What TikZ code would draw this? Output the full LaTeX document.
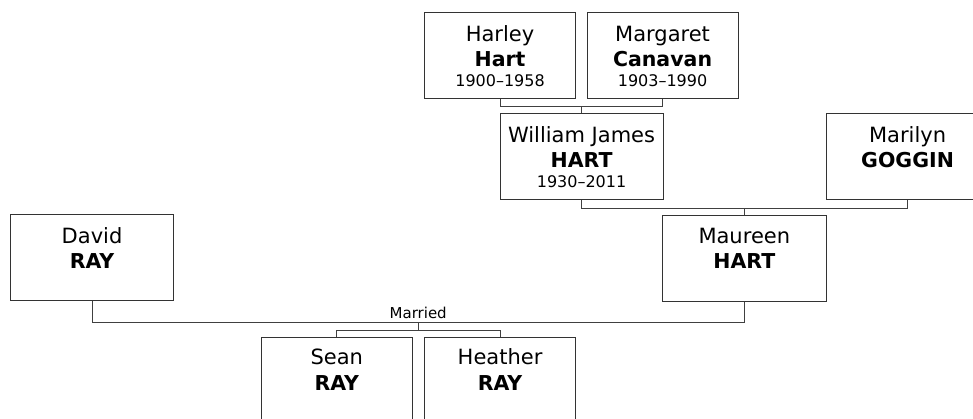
\documentclass[tikz,border=0pt]{standalone}
\usepackage{fontspec}
\setmainfont{DejaVu Sans}
\usetikzlibrary{calc}
\begin{document}
\begin{tikzpicture}[x=1pt,y=-1pt,
  person/.style={draw=black!80, line width=1.1pt, fill=white, anchor=north west, inner sep=0pt, minimum height=86pt},
  link/.style={draw=black!75, line width=1.1pt},
  given/.style={anchor=base, inner sep=0pt, font=\fontsize{21}{25}\selectfont},
  family/.style={anchor=base, inner sep=0pt, font=\fontsize{20.5}{25}\selectfont\bfseries},
  years/.style={anchor=base, inner sep=0pt, font=\fontsize{16}{20}\selectfont},
  lbl/.style={anchor=base, inner sep=0pt, font=\fontsize{15}{18}\selectfont}]
\useasboundingbox (0,0) rectangle (973,418);
\clip (0,0) rectangle (973,418);
% boxes
\node[person, minimum width=151pt] (harley) at (424,12) {};
\node[person, minimum width=151pt] (margaret) at (586.5,12) {};
\node[person, minimum width=163pt] (william) at (499.5,113) {};
\node[person, minimum width=163pt] (marilyn) at (825.5,113) {};
\node[person, minimum width=163.5pt] (maureen) at (662,214.5) {};
\node[person, minimum width=163pt] (david) at (10,214.3) {};
\node[person, minimum width=151.5pt] (sean) at (260.5,336.5) {};
\node[person, minimum width=151pt] (heather) at (424,336.5) {};
% texts
\node[given] (t1) at ([yshift=-29pt]harley.north) {Harley};
\node[family] (t2) at ([yshift=-54pt]harley.north) {Hart};
\node[years] (t3) at ([yshift=-74pt]harley.north) {1900–1958};
\node[given] (t4) at ([yshift=-29pt]margaret.north) {Margaret};
\node[family] (t5) at ([yshift=-54pt]margaret.north) {Canavan};
\node[years] (t6) at ([yshift=-74pt]margaret.north) {1903–1990};
\node[given] (t7) at ([yshift=-29pt]william.north) {William James};
\node[family] (t8) at ([yshift=-54pt]william.north) {HART};
\node[years] (t9) at ([yshift=-74pt]william.north) {1930–2011};
\node[given] (t10) at ([yshift=-29pt]marilyn.north) {Marilyn};
\node[family] (t11) at ([yshift=-54pt]marilyn.north) {GOGGIN};
\node[given] (t12) at ([yshift=-29pt]maureen.north) {Maureen};
\node[family] (t13) at ([yshift=-54pt]maureen.north) {HART};
\node[given] (t14) at ([yshift=-29pt]david.north) {David};
\node[family] (t15) at ([yshift=-54pt]david.north) {RAY};
\node[given] (t16) at ([yshift=-28pt]sean.north) {Sean};
\node[family] (t17) at ([yshift=-54pt]sean.north) {RAY};
\node[given] (t18) at ([yshift=-28pt]heather.north) {Heather};
\node[family] (t19) at ([yshift=-54pt]heather.north) {RAY};
% connectors
\coordinate (c1) at ($(harley.south)!0.5!(margaret.south)+(0,7.5)$);
\draw[link] (harley.south) -- ++(0,7.5) -| (margaret.south);
\draw[link] (c1) -- (c1 |- william.north);
\coordinate (c2) at ($(william.south)!0.5!(marilyn.south)+(0,8)$);
\draw[link] (william.south) -- ++(0,8) -| (marilyn.south);
\draw[link] (c2) -- (c2 |- maureen.north);
\coordinate (c3) at ($(david.south)!0.5!(maureen.south)+(0,21)$);
\draw[link] (david.south) -- ++(0,21) -| (maureen.south);
\node[lbl] (married) at ([yshift=4.5pt]c3) {Married};
\coordinate (c4) at ($(c3)+(0,8)$);
\draw[link] (c3) -- (c4);
\draw[link] (sean.north) -- (sean.north |- c4) -| (heather.north);
\end{tikzpicture}
\end{document}
